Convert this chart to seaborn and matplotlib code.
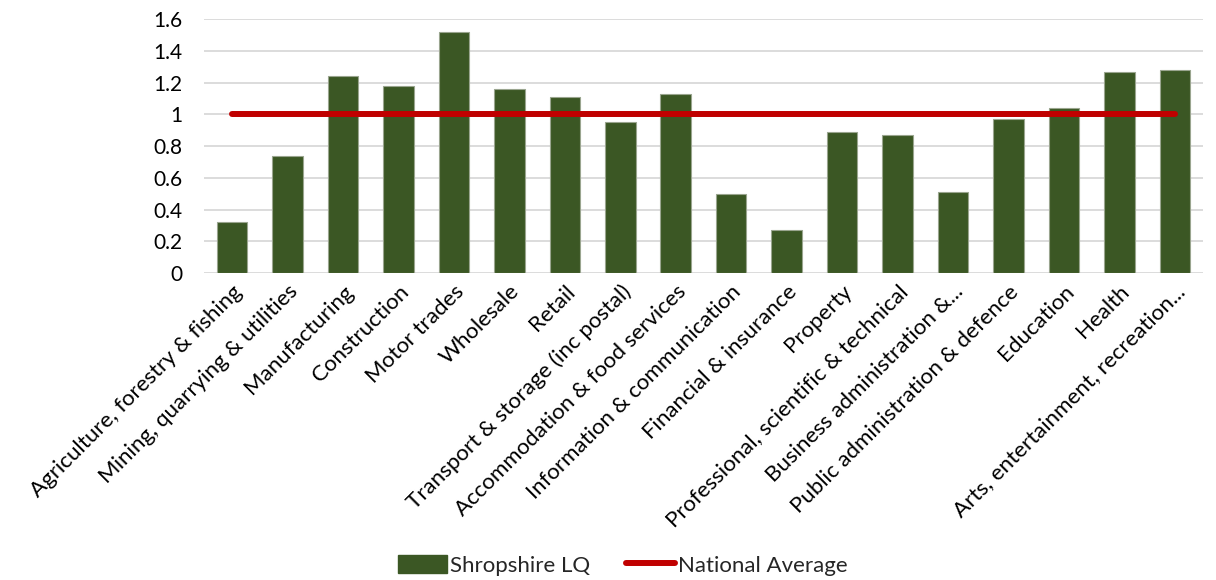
import numpy as np
import pandas as pd
import seaborn as sns
import matplotlib.pyplot as plt
from matplotlib.patches import Patch
from matplotlib.lines import Line2D

# data
sectors = [
    "Agriculture, forestry & fishing", "Mining, quarrying & utilities",
    "Manufacturing", "Construction", "Motor trades", "Wholesale", "Retail",
    "Transport & storage (inc postal)", "Accommodation & food services",
    "Information & communication", "Financial & insurance", "Property",
    "Professional, scientific & technical", "Business administration &...",
    "Public administration & defence", "Education", "Health",
    "Arts, entertainment, recreation...",
]
shropshire_lq = [0.32, 0.74, 1.24, 1.18, 1.52, 1.16, 1.11, 0.95, 1.13,
                 0.50, 0.27, 0.89, 0.87, 0.51, 0.97, 1.04, 1.27, 1.28]
national_avg = [1.0] * len(sectors)
y_ticks = [0, 0.2, 0.4, 0.6, 0.8, 1, 1.2, 1.4, 1.6]
y_tick_labels = ["0", "0.2", "0.4", "0.6", "0.8", "1", "1.2", "1.4", "1.6"]

green = "#3B5724"
red = "#C00000"

sns.set_theme(style="white")
plt.rcParams["font.family"] = ["Lato", "DejaVu Sans"]

df = pd.DataFrame({"sector": sectors, "lq": shropshire_lq})

fig = plt.figure(figsize=(12.16, 5.8), dpi=100)
ax = fig.add_axes([0.168, 0.529, 0.821, 0.438])

sns.barplot(data=df, x="sector", y="lq", color=green, width=0.55,
            edgecolor="#9aa58f", linewidth=0.8, saturation=1, ax=ax, zorder=2)
ax.plot(np.arange(len(sectors)), national_avg, color=red, lw=4.3,
        solid_capstyle="round", zorder=3)

ax.set_ylim(0, 1.6)
ax.set_xlim(-0.5, len(sectors) - 0.5)
ax.set_yticks(y_ticks)
ax.set_yticklabels(y_tick_labels)
ax.yaxis.grid(True, color="#D9D9D9", lw=1.3)
ax.set_axisbelow(True)
for s in ax.spines.values():
    s.set_visible(False)
ax.tick_params(axis="both", length=0, colors="black")
ax.tick_params(axis="y", pad=16, labelsize=15)
ax.tick_params(axis="x", pad=6, labelsize=16)
ax.set_xticks(range(len(sectors)))
ax.set_xticklabels(sectors, rotation=45, ha="right", rotation_mode="anchor")
ax.set_xlabel("")
ax.set_ylabel("")

handles = [Patch(facecolor=green, edgecolor=green),
           Line2D([0], [0], color=red, lw=4.3, solid_capstyle="round")]
fig.legend(handles, ["Shropshire LQ", "National Average"], loc="lower center",
           bbox_to_anchor=(0.512, -0.027), ncol=2, frameon=False, fontsize=16,
           handlelength=2.2, handleheight=0.85, handletextpad=0.15,
           columnspacing=1.6)

fig.savefig("out.png", dpi=100)
